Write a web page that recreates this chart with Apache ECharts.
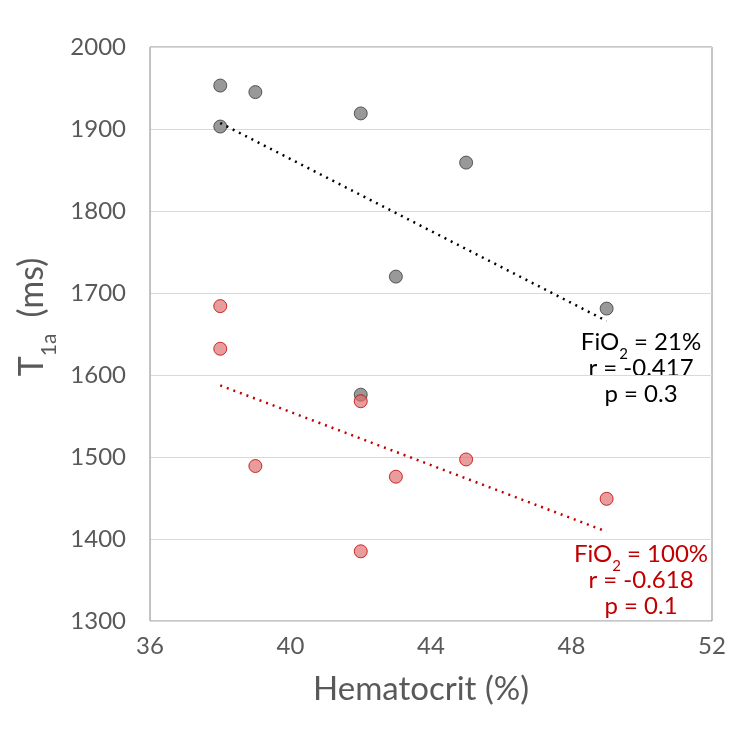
<!DOCTYPE html>
<html>
<head>
<meta charset="utf-8">
<script src="https://cdn.jsdelivr.net/npm/echarts@6/dist/echarts.min.js"></script>
<style>
html,body{margin:0;padding:0;background:#fff;}
#chart{width:744px;height:737px;}
</style>
</head>
<body>
<div id="chart"></div>
<script>
// FiO2 = 21%
var hctAir = [38, 39, 42, 38, 45, 43, 49, 42];
var t1Air = [1953, 1945, 1919, 1903, 1859, 1720, 1681, 1576];
// FiO2 = 100%
var hctO2 = [38, 38, 42, 39, 43, 45, 42, 49];
var t1O2 = [1684, 1632, 1568, 1489, 1476, 1497, 1385, 1449];

var xTicks = [36, 40, 44, 48, 52];
var yTicks = [1300, 1400, 1500, 1600, 1700, 1800, 1900, 2000];

function pairs(xs, ys){
    return xs.map(function(x, i){ return [x, ys[i]]; });
}
// least squares trend line, from min x to max x
function trend(xs, ys){
    var n = xs.length, mx = 0, my = 0;
    for (var i = 0; i < n; i++) { mx += xs[i]; my += ys[i]; }
    mx /= n; my /= n;
    var sxy = 0, sxx = 0;
    for (var i = 0; i < n; i++) { sxy += (xs[i]-mx)*(ys[i]-my); sxx += (xs[i]-mx)*(xs[i]-mx); }
    var b = sxy / sxx, a = my - b*mx;
    var lo = Math.min.apply(null, xs), hi = Math.max.apply(null, xs);
    return [[lo, a + b*lo], [hi, a + b*hi]];
}

var font = 'Lato';
var myChart = echarts.init(document.getElementById('chart'));

function note(lines, color, top){
    return {
        type: 'text',
        x: 641, y: top,
        style: {
            text: lines.join('\n'),
            align: 'center',
            verticalAlign: 'top',
            fill: color,
            rich: {
                t: {fontFamily: font, fontSize: 24, color: color, lineHeight: 26, align: 'center'},
                s: {fontFamily: font, fontSize: 15, color: color, lineHeight: 26, verticalAlign: 'bottom', padding: [0, 0, -7, 0]}
            }
        }
    };
}

var option = {
    animation: false,
    grid: {left: 150, right: 32, top: 47, bottom: 116, show: true, borderColor: '#8c8c8c', borderWidth: 1},
    xAxis: {
        type: 'value',
        min: 36, max: 52, interval: 4,
        name: 'Hematocrit (%)',
        nameLocation: 'middle',
        nameGap: 52,
        nameTextStyle: {fontFamily: font, fontSize: 33, color: '#595959', padding: [0, 20, 0, 0]},
        axisLine: {show: false},
        axisTick: {show: false},
        splitLine: {show: false},
        axisLabel: {fontFamily: font, fontSize: 24, color: '#595959', margin: 13}
    },
    yAxis: {
        type: 'value',
        min: 1300, max: 2000, interval: 100,
        name: '{a|T}{b|1a}{c|(ms)}',
        nameLocation: 'middle',
        nameGap: 86,
        nameTextStyle: {
            fontFamily: font, fontSize: 34, color: '#595959',
            padding: [0, 0, 0, 34],
            rich: {
                a: {fontFamily: font, fontSize: 34, color: '#595959'},
                b: {fontFamily: font, fontSize: 21, color: '#595959', verticalAlign: 'bottom', padding: [0, 0, -10, 0]},
                c: {fontFamily: font, fontSize: 34, color: '#595959', padding: [0, 0, 0, 16]}
            }
        },
        axisLine: {show: true, lineStyle: {color: '#bfbfbf'}},
        axisTick: {show: false},
        splitLine: {lineStyle: {color: '#d9d9d9'}},
        axisLabel: {
            fontFamily: font, fontSize: 24, color: '#595959', margin: 24,
            formatter: function(v){ return String(v); }
        }
    },
    series: [
        {
            type: 'scatter',
            data: pairs(hctAir, t1Air),
            symbolSize: 13,
            itemStyle: {color: '#808080', borderColor: '#3a3a3a', borderWidth: 1}
        },
        {
            type: 'scatter',
            data: pairs(hctO2, t1O2),
            symbolSize: 13,
            itemStyle: {color: 'rgba(222,110,110,0.85)', borderColor: '#c00000', borderWidth: 1}
        },
        {
            type: 'line',
            data: trend(hctAir, t1Air),
            symbol: 'none',
            lineStyle: {color: '#000', width: 2.5, type: [2, 5]}
        },
        {
            type: 'line',
            data: trend(hctO2, t1O2),
            symbol: 'none',
            lineStyle: {color: '#c00000', width: 2.5, type: [2, 5]}
        }
    ],
    graphic: [
        note(['{t|FiO}{s|2}{t| = 21%}', '{t|r = -0.417}', '{t|p = 0.3}'], '#000000', 329),
        note(['{t|FiO}{s|2}{t| = 100%}', '{t|r = -0.618}', '{t|p = 0.1}'], '#c00000', 541)
    ]
};
myChart.setOption(option);
</script>
</body>
</html>
